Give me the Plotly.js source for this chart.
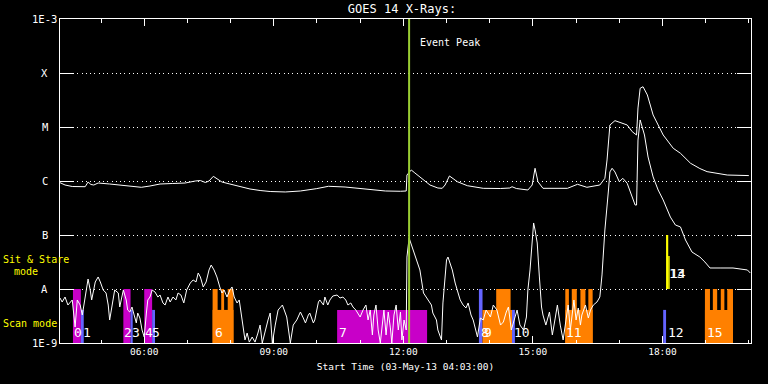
<!DOCTYPE html>
<html><head><meta charset="utf-8">
<script src="https://cdn.plot.ly/plotly-3.0.1.min.js"></script>
<style>html,body{margin:0;padding:0;background:#000;}#chart{width:768px;height:384px;}</style>
</head><body><div id="chart"></div>
<script>
const day = "2013-05-03 ";

// GOES 14 long channel (1-8 A), W/m^2
const longTimes = [
 "04:03","04:10","04:20","04:38","04:42","04:46","04:50","04:56","05:12","05:29",
 "05:43","05:56","06:08","06:22","06:39","06:57","07:11","07:18","07:25","07:30",
 "07:36","07:43","07:48","07:59","08:13","08:27","08:41","08:55","09:16","09:37",
 "09:59","10:16","10:39","11:00","11:17","11:35","11:56","12:04","12:05","12:08",
 "12:11","12:16","12:23","12:37","12:48","12:54","12:58","13:04","13:09","13:15",
 "13:29","13:51","14:15","14:28","14:31","14:37","14:53","14:59","15:03","15:07",
 "15:14","15:48","16:02","16:15","16:33","16:40","16:43","16:45","16:47","16:54",
 "17:01","17:11","17:18","17:24","17:26","17:29","17:33","17:39","17:47","18:01",
 "18:15","18:25","18:39","18:52","19:02","19:30","20:00"];
const longFlux = [
 9.30e-7,8.43e-7,7.91e-7,7.84e-7,9.58e-7,8.61e-7,8.43e-7,9.18e-7,8.80e-7,8.26e-7,
 7.91e-7,7.64e-7,8.08e-7,8.80e-7,8.99e-7,9.18e-7,1.00e-6,1.02e-6,9.38e-7,1.00e-6,
 1.22e-6,1.07e-6,9.58e-7,8.80e-7,7.91e-7,7.11e-7,6.67e-7,6.39e-7,6.26e-7,6.53e-7,
 7.20e-7,7.98e-7,7.74e-7,7.32e-7,6.96e-7,6.53e-7,6.45e-7,6.53e-7,1.29e-6,1.47e-6,
 1.60e-6,1.41e-6,1.20e-6,8.43e-7,7.42e-7,7.32e-7,8.43e-7,1.24e-6,1.11e-6,9.71e-7,
 8.18e-7,7.32e-7,7.26e-7,7.42e-7,7.84e-7,7.26e-7,6.81e-7,8.43e-7,1.72e-6,9.71e-7,
 7.32e-7,7.32e-7,8.69e-7,7.64e-7,8.43e-7,1.12e-6,2.45e-6,5.74e-6,1.09e-5,1.31e-5,
 1.20e-5,1.09e-5,8.19e-6,7.11e-6,2.25e-5,5.21e-5,5.57e-5,3.92e-5,1.67e-5,7.11e-6,
 4.03e-6,3.26e-6,2.13e-6,1.70e-6,1.49e-6,1.29e-6,1.26e-6];

// GOES 14 short channel (0.5-4 A), W/m^2
const shortTimes = [
 "04:03","04:06","04:10","04:14","04:20","04:24","04:27","04:31","04:34","04:38",
 "04:42","04:45","04:47","04:52","04:56","04:59","05:03","05:07","05:10","05:12",
 "05:15","05:19","05:24","05:26","05:31","05:35","05:37","05:40","05:43","05:46",
 "05:49","05:51","05:54","05:57","06:00","06:03","06:05","06:08","06:11","06:15",
 "06:19","06:22","06:26","06:29","06:33","06:36","06:40","06:44","06:47","06:51",
 "06:55","06:59","07:04","07:08","07:12","07:15","07:18","07:22","07:26","07:30",
 "07:33","07:37","07:41","07:45","07:48","07:51","07:55","07:59","08:02","08:05",
 "08:09","08:12","08:15","08:17","08:20","08:23","08:26","08:30","08:34","08:38",
 "08:41","08:44","08:48","08:52","08:55","08:58","09:02","09:06","09:12","09:16",
 "09:18","09:23","09:27","09:32","09:37","09:41","09:44","09:48","09:50","09:55",
 "09:57","10:02","10:04","10:09","10:11","10:15","10:18","10:22","10:28","10:32",
 "10:36","10:40","10:43","10:47","10:50","10:54","11:00","11:04","11:08","11:11",
 "11:14","11:17","11:19","11:22","11:25","11:28","11:31","11:33","11:36","11:39",
 "11:42","11:44","11:47","11:50","11:53","11:56","11:58","12:01","12:04","12:05",
 "12:08","12:14","12:19","12:23","12:28","12:35","12:39","12:41","12:46","12:48",
 "12:53","12:55","13:00","13:02","13:08","13:12","13:16","13:19","13:23","13:27",
 "13:30","13:34","13:37","13:43","13:47","13:51","13:55","14:01","14:05","14:10",
 "14:15","14:19","14:23","14:26","14:30","14:34","14:38","14:42","14:47","14:51",
 "14:53","14:56","14:59","15:01","15:03","15:06","15:09","15:12","15:14","15:18",
 "15:23","15:27","15:31","15:34","15:38","15:42","15:46","15:49","15:52","15:55",
 "15:57","16:00","16:03","16:06","16:08","16:13","16:17","16:20","16:24","16:29",
 "16:33","16:36","16:40","16:45","16:47","16:50","16:54","17:00","17:05","17:11",
 "17:18","17:22","17:24","17:26","17:29","17:35","17:40","17:47","17:54","18:01",
 "18:11","18:18","18:25","18:32","18:41","18:52","18:59","19:06","19:20","19:38",
 "19:58","20:02"];
const shortFlux = [
 6.81e-9,5.74e-9,7.11e-9,5.05e-9,6.26e-9,1.98e-9,6.26e-9,5.05e-9,3.30e-9,7.11e-9,
 1.53e-8,9.58e-9,6.26e-9,1.35e-8,1.67e-8,1.35e-8,9.58e-9,8.43e-9,5.05e-9,2.67e-9,
 4.64e-9,9.58e-9,8.43e-9,4.64e-9,9.58e-9,6.26e-9,4.08e-9,3.75e-9,4.64e-9,3.30e-9,
 2.35e-9,3.59e-9,2.90e-9,1.74e-9,1.29e-9,3.59e-9,6.26e-9,7.11e-9,9.58e-9,8.80e-9,
 7.11e-9,7.74e-9,5.51e-9,5.05e-9,7.11e-9,5.74e-9,7.11e-9,6.26e-9,8.43e-9,7.74e-9,
 5.51e-9,9.58e-9,1.29e-8,1.47e-8,1.35e-8,1.98e-8,1.67e-8,1.09e-8,1.35e-8,2.25e-8,
 2.78e-8,2.25e-8,1.67e-8,1.09e-8,8.43e-9,9.58e-9,7.11e-9,9.58e-9,1.09e-8,7.11e-9,
 5.51e-9,6.26e-9,3.03e-9,2.35e-9,1.14e-9,1.53e-9,1.04e-9,1.29e-9,1.04e-9,1.53e-9,
 2.15e-9,1.00e-9,1.74e-9,2.67e-9,3.59e-9,1.00e-9,2.15e-9,4.08e-9,5.05e-9,3.75e-9,
 3.03e-9,1.00e-9,2.15e-9,2.67e-9,3.75e-9,2.90e-9,2.35e-9,3.30e-9,3.59e-9,2.35e-9,
 2.67e-9,5.74e-9,6.26e-9,5.05e-9,7.11e-9,5.05e-9,6.26e-9,7.42e-9,7.74e-9,6.81e-9,
 7.11e-9,6.26e-9,5.05e-9,5.51e-9,4.64e-9,4.08e-9,3.03e-9,4.08e-9,5.05e-9,2.67e-9,
 4.08e-9,1.41e-9,3.30e-9,5.05e-9,1.74e-9,1.00e-9,2.90e-9,4.08e-9,1.41e-9,3.75e-9,
 1.90e-9,1.00e-9,3.30e-9,5.05e-9,1.74e-9,3.75e-9,1.14e-9,2.67e-9,1.74e-9,3.91e-8,
 8.80e-8,5.27e-8,3.16e-8,2.25e-8,8.43e-9,6.26e-9,5.05e-9,3.59e-9,2.67e-9,1.74e-9,
 1.14e-9,5.51e-9,3.44e-8,3.91e-8,2.25e-8,1.29e-8,8.43e-9,6.26e-9,5.05e-9,4.45e-9,
 5.51e-9,3.30e-9,2.67e-9,1.29e-9,2.90e-9,2.67e-9,4.08e-9,3.03e-9,5.05e-9,4.08e-9,
 2.15e-9,2.45e-9,3.75e-9,4.64e-9,1.74e-9,2.67e-9,4.08e-9,2.15e-9,1.74e-9,3.03e-9,
 9.58e-9,2.25e-8,6.53e-8,1.67e-7,1.24e-7,7.11e-8,1.67e-8,4.64e-9,3.30e-9,2.15e-9,
 3.75e-9,1.41e-9,2.90e-9,5.05e-9,2.15e-9,1.14e-9,2.67e-9,5.05e-9,1.74e-9,4.08e-9,
 6.26e-9,2.67e-9,4.45e-9,2.15e-9,3.30e-9,5.05e-9,2.90e-9,4.08e-9,5.05e-9,5.74e-9,
 7.11e-9,1.82e-8,1.24e-7,6.81e-7,1.47e-6,1.72e-6,1.47e-6,9.71e-7,1.12e-6,9.06e-7,
 5.06e-7,3.59e-7,3.59e-7,5.74e-6,1.35e-5,7.11e-6,2.78e-6,1.19e-6,6.81e-7,4.45e-7,
 2.15e-7,1.53e-7,1.41e-7,8.08e-8,4.84e-8,3.91e-8,3.16e-8,2.45e-8,2.45e-8,2.45e-8,
 2.25e-8,1.98e-8];

// Observation blocks (start, end, lower and upper level, mode)
const obsStart = ["04:21","04:32","05:31","05:41","06:00","06:11","07:35","07:35","07:47","07:56",
                  "10:28","13:45","13:50","14:09","14:31","15:45","15:45","15:54","16:06","16:17",
                  "18:01","18:05","18:08","18:59","18:59","19:10","19:21","19:30"];
const obsEnd   = ["04:32","04:36","05:41","05:44","06:11","06:15","08:04","07:42","07:51","08:04",
                  "12:33","13:50","14:31","14:29","14:35","16:23","15:50","16:01","16:13","16:23",
                  "18:05","18:08","18:10","19:38","19:06","19:16","19:26","19:38"];
const obsLow   = [1e-9,1e-9,1e-9,1e-9,1e-9,1e-9,1e-9,1e-9,1e-9,1e-9,
                  1e-9,1e-9,1e-9,1e-9,1e-9,1e-9,1e-9,1e-9,1e-9,1e-9,
                  1e-9,1e-8,1e-8,1e-9,1e-9,1e-9,1e-9,1e-9];
const obsHigh  = [1e-8,4.1e-9,1e-8,4.1e-9,1e-8,4.1e-9,4.1e-9,1e-8,1e-8,1e-8,
                  4.1e-9,1e-8,4.1e-9,1e-8,4.1e-9,4.1e-9,1e-8,1e-8,1e-8,1e-8,
                  4.1e-9,1e-7,4.1e-8,4.1e-9,1e-8,1e-8,1e-8,1e-8];
const obsMode  = ["raster","sitstare","raster","sitstare","raster","sitstare","scan","scan","scan","scan",
                  "raster","sitstare","scan","scan","sitstare","scan","scan","scan","scan","scan",
                  "sitstare","stare","stare","scan","scan","scan","scan","scan"];

// Observation numbers
const obsLabels    = ["0","1","2","3","4","5","6","7","8","9","10","11","12","13","14","15"];
const obsLabelTime = ["04:21","04:34","05:31","05:42","06:00","06:09","07:37","10:29","13:47","13:50",
                      "14:32","15:45","18:06","18:08","18:09","19:01"];
const obsLabelRow  = ["low","low","low","low","low","low","low","low","low","low",
                      "low","low","low","high","high","low"];

const yTickVals = [1e-9,1e-8,1e-7,1e-6,1e-5,1e-4,1e-3];
const yTickText = ["1E-9","A","B","C","M","X","1E-3"];
const eventPeak = "12:08";

const MONO = "DejaVu Sans Mono, Liberation Mono, monospace";
const modeColor = {raster:"#c800c8", sitstare:"#6464ff", scan:"#ff8000", stare:"#ffff00"};

const traces = [
  {x: longTimes.map(t => day + t), y: longFlux, type: "scatter", mode: "lines",
   line: {color: "#ffffff", width: 1}, hoverinfo: "x+y", name: "1-8 A"},
  {x: shortTimes.map(t => day + t), y: shortFlux, type: "scatter", mode: "lines",
   line: {color: "#ffffff", width: 1}, hoverinfo: "x+y", name: "0.5-4 A"}
];

const shapes = obsStart.map((s, i) => ({
  type: "rect", xref: "x", yref: "y",
  x0: day + s, x1: day + obsEnd[i], y0: obsLow[i], y1: obsHigh[i],
  fillcolor: modeColor[obsMode[i]], line: {width: 0}, layer: "between"
}));
shapes.push({type: "line", xref: "x", yref: "paper", x0: day + eventPeak, x1: day + eventPeak,
  y0: 0, y1: 1, line: {color: "#9acd32", width: 2}, layer: "above"});

const annotations = [];
yTickVals.forEach((v, i) => annotations.push({
  text: yTickText[i], xref: "paper", x: 0, xshift: -15.5, xanchor: "center",
  yref: "y", y: Math.log10(v), yanchor: "middle", showarrow: false,
  font: {family: MONO, size: 10.5, color: "#ffffff"}
}));
obsLabels.forEach((t, i) => annotations.push({
  text: t, xref: "x", x: day + obsLabelTime[i], xanchor: "left",
  yref: "paper", y: obsLabelRow[i] === "high" ? 0.216 : 0.032, yanchor: "middle",
  showarrow: false, borderpad: 0,
  font: {family: MONO, size: 13, color: "#ffffff"}
}));
annotations.push({text: "Event Peak", xref: "x", x: day + "12:21", xanchor: "left",
  yref: "paper", y: 0.926, yanchor: "middle", showarrow: false,
  font: {family: MONO, size: 10, color: "#ffffff"}});
annotations.push({text: "Sit & Stare", xref: "paper", x: 0, xshift: -59, xanchor: "left",
  yref: "paper", y: 0.259, yanchor: "middle", showarrow: false,
  font: {family: MONO, size: 10, color: "#ffff00"}});
annotations.push({text: "mode", xref: "paper", x: 0, xshift: -48, xanchor: "left",
  yref: "paper", y: 0.222, yanchor: "middle", showarrow: false,
  font: {family: MONO, size: 10, color: "#ffff00"}});
annotations.push({text: "Scan mode", xref: "paper", x: 0, xshift: -59, xanchor: "left",
  yref: "paper", y: 0.061, yanchor: "middle", showarrow: false,
  font: {family: MONO, size: 10, color: "#ffff00"}});

const layout = {
  width: 768, height: 384,
  paper_bgcolor: "#000000", plot_bgcolor: "#000000",
  margin: {l: 60, r: 17, t: 19, b: 41},
  showlegend: false,
  title: {text: "GOES 14 X-Rays:", font: {family: MONO, size: 12, color: "#ffffff"},
          xref: "paper", x: 0.495, xanchor: "center", yref: "container", y: 0.976, yanchor: "middle"},
  xaxis: {
    type: "date", range: [day + "04:03", day + "20:03"],
    tickformat: "%H:%M", tick0: day + "00:00", dtick: 3 * 3600000,
    ticks: "inside", ticklen: 7, tickwidth: 1, tickcolor: "#ffffff",
    minor: {dtick: 3600000, ticks: "inside", ticklen: 3.5, tickcolor: "#ffffff", tickwidth: 1, showgrid: false},
    showline: true, linecolor: "#ffffff", linewidth: 1, mirror: "ticks",
    showgrid: false, zeroline: false,
    tickfont: {family: MONO, size: 9.5, color: "#ffffff"},
    title: {text: "Start Time (03-May-13 04:03:00)", standoff: 6,
            font: {family: MONO, size: 9.5, color: "#ffffff"}}
  },
  yaxis: {
    type: "log", range: [-9, -3],
    tickmode: "array", tickvals: yTickVals, ticktext: yTickText, showticklabels: false,
    ticks: "inside", ticklen: 14, tickwidth: 1, tickcolor: "#ffffff",
    showline: true, linecolor: "#ffffff", linewidth: 1, mirror: "ticks",
    showgrid: true, gridcolor: "#ffffff", gridwidth: 1, griddash: "1px,3.3px",
    zeroline: false
  },
  shapes: shapes,
  annotations: annotations
};

Plotly.newPlot("chart", traces, layout, {displayModeBar: false, staticPlot: true});
</script>
</body></html>
